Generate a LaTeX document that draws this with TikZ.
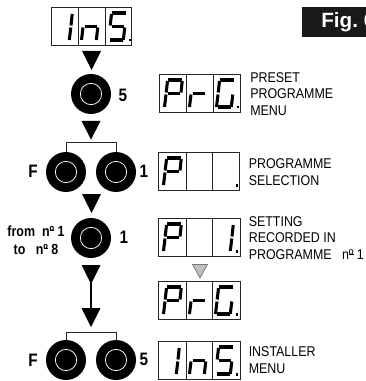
\documentclass[tikz,border=0pt]{standalone}
\usepackage{fontspec}
\setmainfont{Liberation Sans}
\newfontfamily\lblfont[FakeStretch=0.88]{Liberation Sans}
\newfontfamily\keyfont[FakeStretch=0.85,BoldFont={Liberation Sans Bold},BoldFeatures={FakeStretch=0.85}]{Liberation Sans}
\newcommand\nro{nº\llap{\rule[0.36em]{0.3em}{0.06em}}}
\newcommand\sgT{\draw[segm] (7,6)--(20.5,6);}
\newcommand\sgUL{\draw[segm] (6.5,7)--(5.2,18.5);}
\newcommand\sgLL{\draw[segm] (5,20.5)--(3.5,33);}
\newcommand\sgUR{\draw[segm] (21.2,7)--(20,18.5);}
\newcommand\sgLR{\draw[segm] (19.8,20.5)--(18.3,33);}
\newcommand\sgM{\draw[segm] (6.5,19.3)--(19,19.3);}
\newcommand\sgB{\draw[segm] (4.5,33)--(17.5,33);}
\newcommand\sgD{\fill (23.5,32) rectangle (26,34.5);}
\newcommand\glP{\sgT\sgUL\sgLL\sgUR\sgM}
\newcommand\glr{\sgM\sgLL}
\newcommand\glG{\sgT\sgUL\sgLL\sgB\sgLR\sgD}
\newcommand\glI{\sgUR\sgLR}
\newcommand\gln{\sgM\sgLL\sgLR}
\newcommand\glS{\sgT\sgUL\sgM\sgLR\sgB\sgD}
\newcommand\dcell[6]{\node[cellbox,minimum width=#4*0.75pt] (#1) at (#2,#3) {};
  \begin{scope}[shift={(#2+#5,#3)}]#6\end{scope}}
\tikzset{
  segm/.style={line width=2.3pt,line cap=butt},
  cellbox/.style={draw=black!85,line width=0.6pt,anchor=north west,minimum height=29pt,inner sep=0,outer sep=0},
  btn/.style={circle,fill=black,inner sep=0,outer sep=0,minimum size=30pt},
  ring/.style={circle,draw=white,line width=0.55pt,fill=black,inner sep=0,minimum size=16pt},
  tri/.style={fill=black},
  wire/.style={draw=black!85,line width=0.6pt},
  lbl/.style={font=\lblfont\fontsize{10.6}{12.6}\selectfont,align=left,anchor=west,inner sep=0},
  key/.style={font=\keyfont\bfseries\fontsize{13.5}{14}\selectfont,inner sep=0},
  rng/.style={font=\keyfont\bfseries\fontsize{11}{13.5}\selectfont,inner sep=0,align=center},
}
\begin{document}
\begin{tikzpicture}[x=0.75pt,y=-0.75pt]
\useasboundingbox (0,0) rectangle (366,381);
% Fig box
\fill[black!90] (302,7) rectangle (366,37);
\node[font=\bfseries\fontsize{15.5}{16}\selectfont,text=white,anchor=west,inner sep=0] (fig) at (321,22) {Fig.\hspace{0.29em}6};
% displays
\dcell{a1}{51}{7}{27}{0}{\glI}
\dcell{a2}{78}{7}{27}{0}{\gln}
\dcell{a3}{105}{7}{26}{0}{\glS}
\dcell{b1}{159}{74}{27}{2}{\glP}
\dcell{b2}{186}{74}{27}{0}{\glr}
\dcell{b3}{213}{74}{27}{0}{\glG}
\dcell{c1}{158}{152}{28}{2}{\glP}
\dcell{c2}{186}{152}{26}{0}{}
\dcell{c3}{212}{152}{27}{0}{\sgD}
\dcell{d1}{158}{218}{28}{2}{\glP}
\dcell{d2}{186}{218}{26}{0}{}
\dcell{d3}{212}{218}{28}{0}{\glI\sgD}
\dcell{e1}{158}{281}{28}{2}{\glP}
\dcell{e2}{186}{281}{26}{0}{\glr}
\dcell{e3}{212}{281}{28}{0}{\glG}
\dcell{f1}{158}{341}{28}{0}{\glI}
\dcell{f2}{186}{341}{26}{0}{\gln}
\dcell{f3}{212}{341}{28}{0}{\glS}
% gray arrow
\draw[fill=black!25,draw=black!55,line width=0.5pt] (192.5,264.5) -- (207.5,264.5) -- (200,278) -- cycle;
% buttons
\foreach \n/\x/\y in {k5/91/94,kF/66/172,kA/116/172,kS/91/238,kG/66/360,kB/116/360}{
  \node[btn] (\n) at (\x,\y) {};
  \node[ring] (\n r) at (\x,\y) {};
}
% brackets
\draw[wire] (kF.north) -- ++(0,-9.5) -| (kA.north);
\draw[wire] (kG.north) -- ++(0,-8) -| (kB.north);
% arrows
\fill[tri] (82,51) -- (101,51) -- (91.5,70) -- cycle;
\fill[tri] (81.5,121) -- (100.5,121) -- (91,139.5) -- cycle;
\fill[tri] (82,194) -- (101,194) -- (91.5,213) -- cycle;
\fill[tri] (81.5,265) -- (100.5,265) -- (91,284) -- cycle;
\coordinate (ls) at (91,280);
\coordinate (le) at (91,310);
\draw[line width=1pt] (ls) -- (le);
\fill[tri] (81.5,308) -- (100.5,308) -- (91,327) -- cycle;
% key labels
\node[key] (t5) at (123,95) {5};
\node[key] (tF) at (33,171) {F};
\node[key] (t1) at (144,171) {1};
\node[key] (t1b) at (124,237) {1};
\node[key] (tF2) at (33,360) {F};
\node[key] (t5b) at (144,359) {5};
\node[rng] (trng) at (36,240) {from\ \ \nro{} 1\\to\ \ \ \nro{} 8};
% text labels
\node[lbl] (l1) at (250,94) {PRESET\\PROGRAMME\\MENU};
\node[lbl] (l2) at (248.5,172) {PROGRAMME\\SELECTION};
\node[lbl] (l3) at (248.5,238) {SETTING\\RECORDED IN\\PROGRAMME\ \ \ \nro{} 1};
\node[lbl] (l4) at (248.5,360) {INSTALLER\\MENU};
\end{tikzpicture}
\end{document}
